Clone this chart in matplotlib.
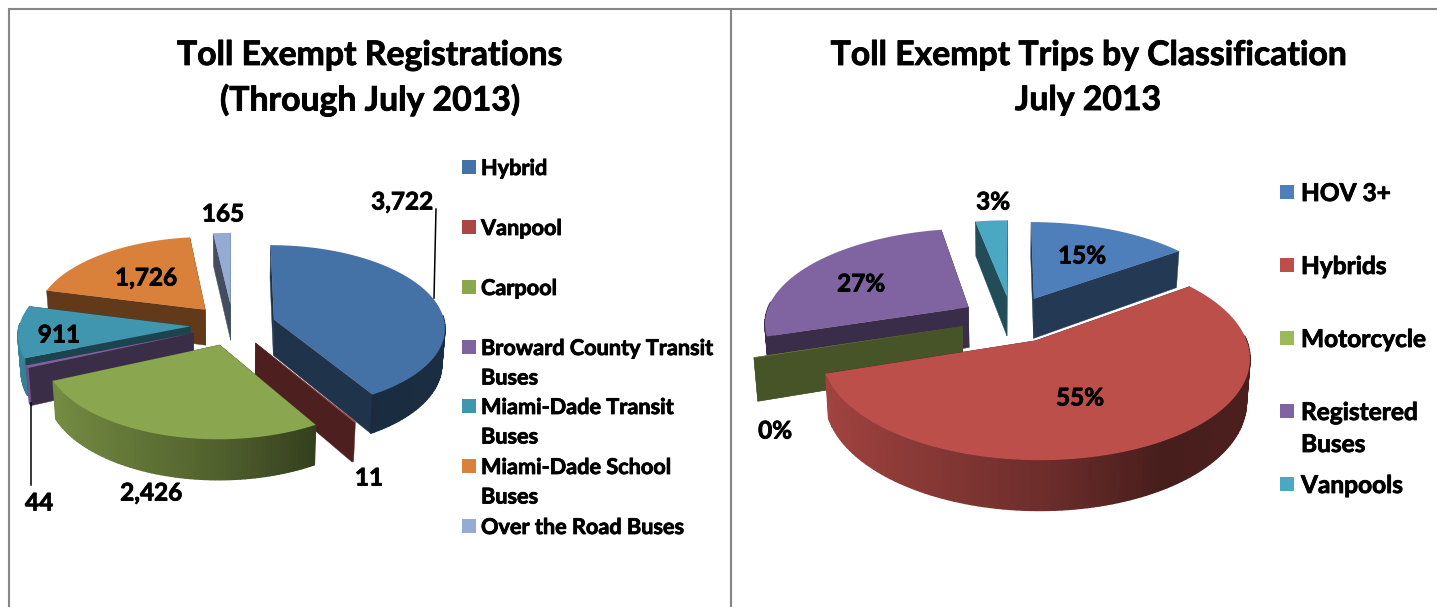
import matplotlib
matplotlib.use('Agg')
import matplotlib.pyplot as plt
import matplotlib.patheffects as pe
from matplotlib.colors import to_rgb
from matplotlib.patches import Polygon, Rectangle
import numpy as np

# ---- data ----
reg_names = ['Hybrid', 'Vanpool', 'Carpool', 'Broward County Transit\nBuses',
             'Miami-Dade Transit\nBuses', 'Miami-Dade School\nBuses', 'Over the Road Buses']
reg_values = [3722, 11, 2426, 44, 911, 1726, 165]
reg_labels = ['3,722', '11', '2,426', '44', '911', '1,726', '165']
reg_colors = ['#4472a6', '#ac4644', '#8aa64e', '#7f63a0', '#3f96ae', '#d9803a', '#95abd4']

trip_names = ['HOV 3+', 'Hybrids', 'Motorcycle', 'Registered\nBuses', 'Vanpools']
trip_values = [15, 55, 0.05, 27, 3]
trip_labels = ['15%', '55%', '0%', '27%', '3%']
trip_colors = ['#4f7fba', '#bd4f4b', '#9bbb59', '#8064a2', '#4aa8c3']

plt.rcParams['font.family'] = ['Lato', 'DejaVu Sans']
plt.rcParams['font.weight'] = 'bold'

fig = plt.figure(figsize=(14.37, 6.07), dpi=100)
ax = fig.add_axes([0, 0, 1, 1])
ax.set_xlim(0, 1437)
ax.set_ylim(607, 0)
ax.axis('off')

heavy = [pe.withStroke(linewidth=0.6, foreground='black')]


def darker(col, f):
    return tuple(c * f for c in to_rgb(col))


def pie3d(values, colors, order, cx, cy, rx, ry, k, depth, explode=0.25, flat=()):
    # fake 3d pie: every slice is projected by hand with a little perspective
    edges = np.cumsum([0] + list(values)) / sum(values) * 360

    def proj(b, t, r, h):
        x = explode * np.sin(b) + r * np.sin(t)
        z = -(explode * np.cos(b) + r * np.cos(t))
        s = 1 / (1 - k * z)
        px = rx * x * s * (1 - 0.015 * (h > 0))
        return cx + px, cy + ry * z * s + h * s

    for i in order:
        a0, a1 = np.radians(edges[i]), np.radians(edges[i + 1])
        b = (a0 + a1) / 2
        col = colors[i]
        wall = darker(col, 0.45)
        # the two cut faces
        for a in (a0, a1):
            pts = [proj(b, a, 0, 0), proj(b, a, 1, 0), proj(b, a, 1, depth), proj(b, a, 0, depth)]
            ax.add_patch(Polygon(pts, fc=wall, ec=wall, lw=0.3, zorder=i_z[0]))
            i_z[0] += 1
        # outer rim, darker to the right
        ts = np.linspace(a0, a1, max(int(np.degrees(a1 - a0) / 1.5), 1) + 1)
        for t0, t1 in zip(ts[:-1], ts[1:]):
            tm = (t0 + t1) / 2
            # almost empty slices have no rim to speak of
            if np.cos(tm) > 0.05 or np.degrees(a1 - a0) < 1:
                continue
            shade = np.interp(np.sin(tm), [-1, 0, 0.5, 1], [0.87, 0.58, 0.38, 0.40])
            c = wall if i in flat else darker(col, shade)
            pts = [proj(b, t0, 1, 0), proj(b, t1, 1, 0), proj(b, t1, 1, depth), proj(b, t0, 1, depth)]
            ax.add_patch(Polygon(pts, fc=c, ec=c, lw=1.0, zorder=i_z[0]))
        i_z[0] += 1
        # top face
        ts = np.linspace(a0, a1, 80)
        pts = [proj(b, a0, 0, 0)] + [proj(b, t, 1, 0) for t in ts]
        ax.add_patch(Polygon(pts, fc=col, ec='none', zorder=i_z[0]))
        i_z[0] += 1


i_z = [2]
pie3d(reg_values, reg_colors, [6, 5, 4, 3, 0, 1, 2], 233, 325, 171, 82, 0.09, 36)
pie3d(trip_values, trip_colors, [4, 0, 3, 2, 1], 1011.5, 319, 204, 94, 0.152, 41, flat=(3,))

# frame lines
ax.plot([9, 9, 1437], [607, 9, 9], color='#868686', lw=1.5, zorder=1, solid_joinstyle='miter')
ax.plot([731, 731], [9, 607], color='#868686', lw=1.5, zorder=1)

# titles
title_kw = dict(ha='center', va='center', fontsize=24.3, color='black', zorder=500, path_effects=heavy)
ax.text(370, 55, 'Toll Exempt Registrations', **title_kw)
ax.text(370, 100, '(Through July 2013)', **title_kw)
ax.text(1089, 55, 'Toll Exempt Trips by Classification', **title_kw)
ax.text(1088, 100, 'July 2013', **title_kw)


def legend(names, colors, x_box, x_text, ys, size, box, gap):
    for name, col, y in zip(names, colors, ys):
        ax.add_patch(Rectangle((x_box, y - box / 2), box, box, fc=col, ec='none', zorder=500))
        ax.text(x_text, y + 1.5, name.split('\n')[0], fontsize=size, va='center', ha='left',
                zorder=500, path_effects=heavy)
        if '\n' in name:
            ax.text(x_text, y + 1.5 + gap, name.split('\n')[1], fontsize=size, va='center', ha='left',
                    zorder=500, path_effects=heavy)


legend(reg_names, reg_colors, 462, 481, [167, 227, 287, 347, 406, 466, 526], 15.6, 14, 29.5)
legend(trip_names, trip_colors, 1280, 1301, [192, 265, 338, 411, 484], 17.6, 14, 32)

# value labels
reg_pos = [(402, 202), (369, 478), (151, 493), (39, 503), (59, 335), (146, 278), (223, 214)]
trip_pos = [(1082, 256), (1080, 398), (775, 431), (861, 284), (993, 202)]
for txt, (x, y) in zip(reg_labels + trip_labels, reg_pos + trip_pos):
    ax.text(x, y, txt, fontsize=17.5, ha='center', va='center', zorder=500, path_effects=heavy)

# leader lines
ax.plot([436, 434], [209, 298], color='black', lw=1.1, zorder=500)
ax.plot([31, 31], [403, 485], color='black', lw=1.1, zorder=500)

fig.savefig('out.png', dpi=100)
